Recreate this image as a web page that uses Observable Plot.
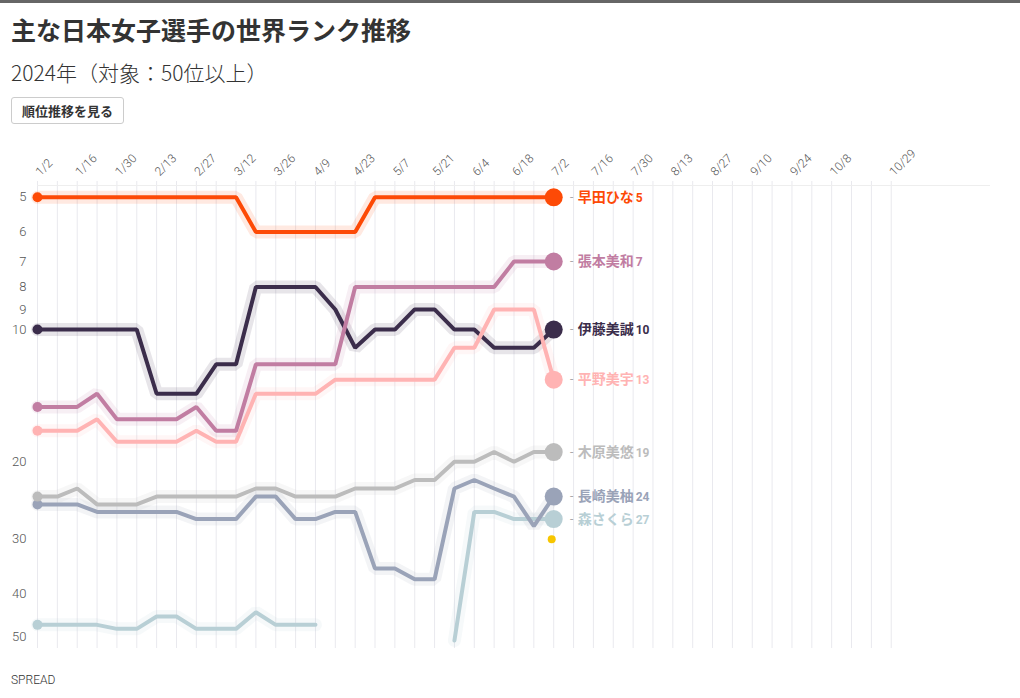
<!DOCTYPE html>
<html lang="ja">
<head>
<meta charset="utf-8">
<script src="https://cdn.jsdelivr.net/npm/d3@7"></script>
<script src="https://cdn.jsdelivr.net/npm/@observablehq/plot@0.6"></script>
<style>
  body { margin: 0; background: #fff; font-family: "Noto Sans CJK JP", "Noto Sans", sans-serif; color: #333; }
  #bar { position: absolute; left: 0; top: 0; width: 1020px; height: 3px; background: #666; }
  #title { position: absolute; left: 11px; top: 11px; font-size: 25px; font-weight: 700; line-height: 36px; color: #333; white-space: nowrap; }
  #subtitle { position: absolute; left: 11px; top: 58px; font-size: 21px; font-weight: 300; line-height: 28px; color: #333; white-space: nowrap; }
  #btn { position: absolute; left: 11px; top: 97px; height: 25px; padding: 0 10px; border: 1px solid #ccc; border-radius: 3px; font-size: 13px; font-weight: 700; line-height: 25px; color: #333; background: #fff; white-space: nowrap; }
  #chart { position: absolute; left: 0; top: 135px; }
  #source { position: absolute; left: 11px; top: 672px; font-family: Roboto, sans-serif; font-size: 12px; font-weight: 300; line-height: 16px; color: #333; }
</style>
</head>
<body>
<div id="bar"></div>
<div id="title">主な日本女子選手の世界ランク推移</div>
<div id="subtitle">2024年（対象：50位以上）</div>
<div id="btn">順位推移を見る</div>
<div id="chart"></div>
<div id="source">SPREAD</div>
<script>
// ---- data ----
const dates = ["1/2","1/9","1/16","1/23","1/30","2/6","2/13","2/20","2/27","3/5","3/12","3/19","3/26","4/2","4/9","4/16","4/23","4/30","5/7","5/14","5/21","5/28","6/4","6/11","6/18","6/25","7/2"];
const tickLabels = ["1/2","1/16","1/30","2/13","2/27","3/12","3/26","4/9","4/23","5/7","5/21","6/4","6/18","7/2","7/16","7/30","8/13","8/27","9/10","9/24","10/8","10/29"];
const yTicks = [5,6,7,8,9,10,20,30,40,50];

const players = ["早田ひな","張本美和","伊藤美誠","平野美宇","木原美悠","長崎美柚","森さくら"];
const colors  = ["#fd4a06","#c17da2","#3b2d4b","#ffb3b3","#bcbcbc","#9aa3b8","#b8cfd5"];

const hayata   = [5,5,5,5,5,5,5,5,5,5,5,6,6,6,6,6,6,5,5,5,5,5,5,5,5,5,5];
const harimoto = [15,15,15,14,16,16,16,16,15,17,17,12,12,12,12,12,8,8,8,8,8,8,8,8,7,7,7];
const ito      = [10,10,10,10,10,10,14,14,14,12,12,8,8,8,8,9,11,10,10,9,9,10,10,11,11,11,10];
const hirano   = [17,17,17,16,18,18,18,18,17,18,18,14,14,14,14,13,13,13,13,13,13,11,11,9,9,9,13];
const kihara   = [24,24,23,25,25,25,24,24,24,24,24,23,23,24,24,24,23,23,23,22,22,20,20,19,20,19,19];
const nagasaki = [25,25,25,26,26,26,26,26,27,27,27,24,24,27,27,26,26,35,35,37,37,23,22,23,24,28,24];
const mori     = [47,47,47,47,48,48,45,45,48,48,48,44,47,47,47,null,null,null,null,null,null,51,26,26,27,27,27];

const extraDate = ["7/2"];
const extraRank = [30];

// draw order (bottom to top)
const series = [
  ["森さくら", mori], ["長崎美柚", nagasaki], ["木原美悠", kihara],
  ["伊藤美誠", ito], ["平野美宇", hirano], ["張本美和", harimoto], ["早田ひな", hayata]
];

// ---- build ----
const parse = s => { const [m, d] = s.split("/").map(Number); return new Date(Date.UTC(2024, m - 1, d)); };
const rows = [];
for (const [name, vals] of series) {
  vals.forEach((v, i) => rows.push({name, date: parse(dates[i]), rank: v == null ? NaN : v, i}));
}
const firsts = rows.filter(d => d.i === 0);
const lasts = rows.filter(d => d.i === dates.length - 1);
const extras = extraDate.map((d, i) => ({date: parse(d), rank: extraRank[i]}));

const start = parse(dates[0]);
const gridDates = [];
for (let t = start; t <= parse("10/29"); t = d3.utcDay.offset(t, 7)) gridDates.push(t);
const tickDates = tickLabels.map(parse);

const chart = Plot.plot({
  width: 1020,
  height: 530,
  marginTop: 50,
  marginBottom: 17,
  marginLeft: 37,
  marginRight: 30,
  style: {fontFamily: "Roboto, 'Noto Sans CJK JP', sans-serif", background: "#fff"},
  x: {type: "utc", domain: [start, d3.utcDay.offset(start, 336)], axis: null},
  y: {type: "log", domain: [4.7, 53.2], reverse: true, axis: null},
  color: {domain: players, range: colors},
  marks: [
    Plot.ruleX(gridDates, {stroke: "#e9e9ee", strokeWidth: 1, insetTop: -4}),
    Plot.ruleY([4.7], {stroke: "#eeeeee", strokeWidth: 1}),
    Plot.line(rows, {x: "date", y: "rank", z: "name", stroke: "name", strokeWidth: 13, strokeOpacity: 0.12, strokeLinejoin: "miter"}),
    Plot.line(rows, {x: "date", y: "rank", z: "name", stroke: "name", strokeWidth: 4, strokeLinejoin: "miter"}),
    Plot.dot(firsts, {x: "date", y: "rank", r: 5, fill: "name"}),
    Plot.dot(extras, {x: "date", y: "rank", r: 4, fill: "#f7c600", dx: -2}),
    Plot.dot(lasts, {x: "date", y: "rank", r: 9, fill: "name"}),
    Plot.text(lasts, {x: "date", y: "rank", text: () => "-", dx: 18, fill: "#aaa", fontSize: 12}),
    Plot.text(lasts, {x: "date", y: "rank", text: "name", dx: 24, textAnchor: "start", fill: "name", fontSize: 14, fontWeight: 700, fontFamily: "'Noto Sans CJK JP', sans-serif"}),
    Plot.text(lasts, {x: "date", y: "rank", text: d => String(d.rank), dx: 82, textAnchor: "start", fill: "name", fontSize: 12, fontWeight: 700, fontFamily: "Roboto, sans-serif", dy: 1}),
    Plot.text(tickDates, {x: d => d, frameAnchor: "top", text: (d, i) => tickLabels[i], rotate: -45, textAnchor: "start", dx: -3, dy: -15, fill: "#555", fontSize: 12, fontWeight: 300}),
    Plot.axisY({ticks: yTicks, tickFormat: d => String(d), tickSize: 0, tickPadding: 11, label: null, fontSize: 13, fontWeight: 300, color: "#555"})
  ]
});
document.getElementById("chart").append(chart);
</script>
</body>
</html>
